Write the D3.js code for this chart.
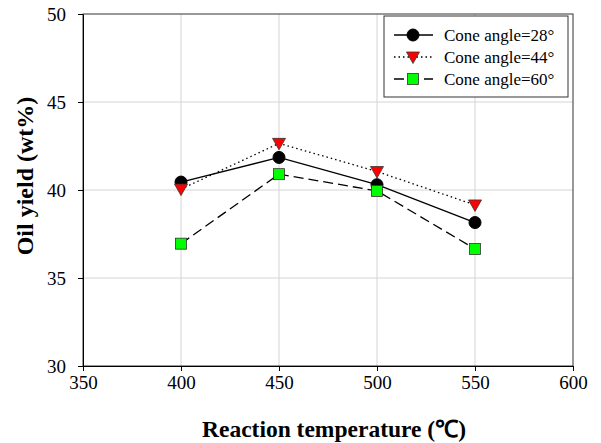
<!DOCTYPE html>
<html>
<head>
<meta charset="utf-8">
<script src="https://cdn.jsdelivr.net/npm/d3@7"></script>
<style>
    body { margin: 0; background: #fff; }
    text { font-family: "Liberation Serif", "Times New Roman", serif; }
</style>
</head>
<body>
<div id="chart"></div>
<script>
    "use strict";
    var temperatures = [400, 450, 500, 550];
    var yield28 = [40.45, 41.85, 40.3, 38.15];
    var yield44 = [40.05, 42.65, 41.05, 39.15];
    var yield60 = [36.95, 40.9, 39.95, 36.65];
    var xTicks = [350, 400, 450, 500, 550, 600];
    var yTicks = [30, 35, 40, 45, 50];
    var seriesNames = ["Cone angle=28°", "Cone angle=44°", "Cone angle=60°"];

    var width = 601, height = 443;
    var margin = {left: 83, right: 28, top: 14, bottom: 77};

    var svg = d3.select("#chart").append("svg")
        .attr("width", width)
        .attr("height", height);

    var x = d3.scaleLinear().domain([350, 600]).range([margin.left, width - margin.right]);
    var y = d3.scaleLinear().domain([30, 50]).range([height - margin.bottom, margin.top]);

    // grid
    var grid = svg.append("g").attr("stroke", "#d4d4d4").attr("stroke-width", 1);
    grid.selectAll("line.v").data(xTicks.slice(1, -1)).enter().append("line")
        .attr("x1", function(d) { return x(d); })
        .attr("x2", function(d) { return x(d); })
        .attr("y1", y(30)).attr("y2", y(50));
    grid.selectAll("line.h").data(yTicks.slice(1, -1)).enter().append("line")
        .attr("y1", function(d) { return y(d); })
        .attr("y2", function(d) { return y(d); })
        .attr("x1", x(350)).attr("x2", x(600));

    // frame
    svg.append("rect")
        .attr("x", x(350)).attr("y", y(50))
        .attr("width", x(600) - x(350)).attr("height", y(30) - y(50))
        .attr("fill", "none").attr("stroke", "#333").attr("stroke-width", 1);

    var xAxis = svg.append("g")
        .attr("transform", "translate(0," + y(30) + ")")
        .call(d3.axisBottom(x).tickValues(xTicks).tickSize(5).tickPadding(5).tickSizeOuter(0));
    var yAxis = svg.append("g")
        .attr("transform", "translate(" + x(350) + ",0)")
        .call(d3.axisLeft(y).tickValues(yTicks).tickSize(5).tickPadding(12).tickSizeOuter(0));
    [xAxis, yAxis].forEach(function(a) {
        a.attr("font-family", null);
        a.selectAll("text").attr("font-size", 19).attr("fill", "#000");
        a.select(".domain").attr("stroke", "#000");
        a.selectAll(".tick line").attr("stroke", "#000");
    });

    svg.append("text")
        .attr("x", (x(350) + x(600)) / 2 + 6).attr("y", 437)
        .attr("text-anchor", "middle")
        .attr("font-size", 23.5).attr("font-weight", "bold")
        .text("Reaction temperature (℃)");
    svg.append("text")
        .attr("transform", "translate(33," + (y(40) - 14) + ") rotate(-90)")
        .attr("text-anchor", "middle")
        .attr("font-size", 24).attr("font-weight", "bold")
        .text("Oil yield (wt%)");

    var styles = [
        {data: yield28, dash: null, shape: "circle", fill: "#000"},
        {data: yield44, dash: "1.5,3", shape: "triangle", fill: "#ff0000"},
        {data: yield60, dash: "10,5", shape: "square", fill: "#00ff00"}
    ];

    function drawMarker(g, shape, fill) {
        if (shape === "circle") {
            g.append("circle").attr("r", 6).attr("fill", fill).attr("stroke", "#000");
        } else if (shape === "triangle") {
            g.append("path").attr("d", "M-6.5,-5L6.5,-5L0,6.5Z")
                .attr("fill", fill).attr("stroke", "#333").attr("stroke-width", 0.8);
        } else {
            g.append("rect").attr("x", -5.5).attr("y", -5.5).attr("width", 11).attr("height", 11)
                .attr("fill", fill).attr("stroke", "#333").attr("stroke-width", 0.8);
        }
    }

    var line = d3.line()
        .x(function(d, i) { return x(temperatures[i]); })
        .y(function(d) { return y(d); });

    styles.forEach(function(s) {
        svg.append("path").datum(s.data)
            .attr("d", line)
            .attr("fill", "none").attr("stroke", "#000").attr("stroke-width", 1.3)
            .attr("stroke-dasharray", s.dash);
    });
    styles.forEach(function(s) {
        s.data.forEach(function(v, i) {
            var g = svg.append("g").attr("transform", "translate(" + x(temperatures[i]) + "," + y(v) + ")");
            drawMarker(g, s.shape, s.fill);
        });
    });

    // legend
    var legend = svg.append("g");
    legend.append("rect")
        .attr("x", 384).attr("y", 16).attr("width", 184).attr("height", 81)
        .attr("fill", "#fff").attr("stroke", "#333").attr("stroke-width", 1);
    styles.forEach(function(s, i) {
        var ly = 35 + i * 22;
        legend.append("line")
            .attr("x1", 394).attr("x2", 433).attr("y1", ly).attr("y2", ly)
            .attr("stroke", "#000").attr("stroke-width", 1.3)
            .attr("stroke-dasharray", s.dash);
        drawMarker(legend.append("g").attr("transform", "translate(413," + ly + ")"), s.shape, s.fill);
        legend.append("text")
            .attr("x", 444).attr("y", ly + 5.5)
            .attr("font-size", 17)
            .text(seriesNames[i]);
    });
</script>
</body>
</html>
